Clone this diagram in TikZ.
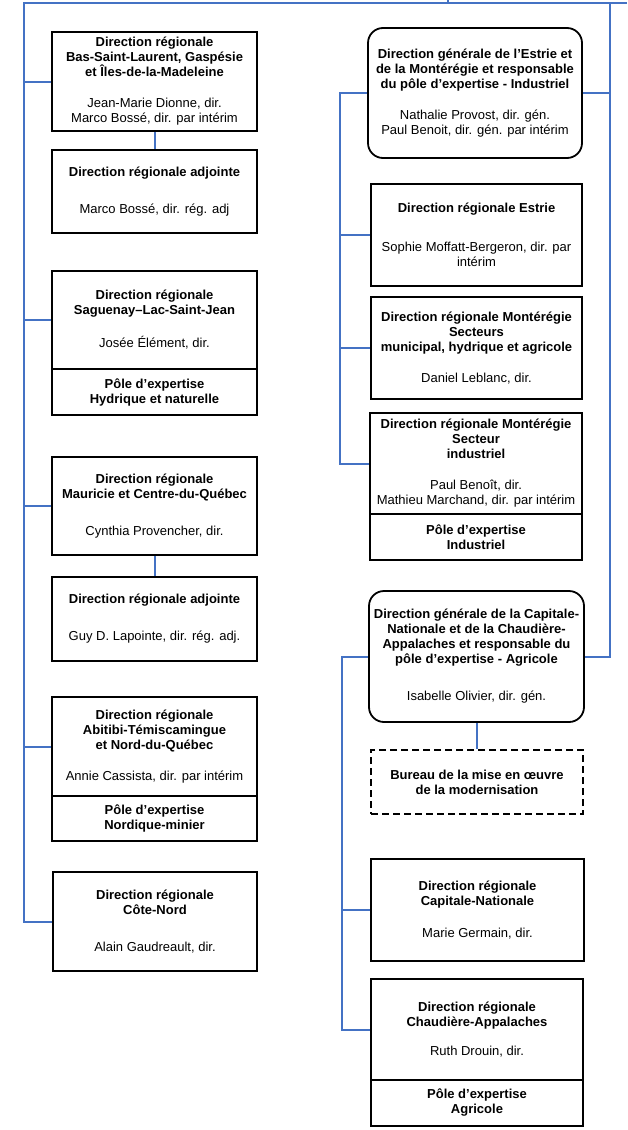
\documentclass[tikz,border=0pt]{standalone}
\usepackage{fontspec}
\setmainfont{Liberation Sans}
\definecolor{busblue}{HTML}{4472C4}
\newcommand{\B}[1]{\textbf{#1}}
\begin{document}
\begin{tikzpicture}[x=1pt,y=-1pt,
  box/.style={draw=black, line width=1.8pt, align=center, inner sep=2pt, font=\fontsize{13}{15}\selectfont},
  rbox/.style={box, rounded corners=15pt},
  dbox/.style={box, dash pattern=on 7pt off 4pt},
  link/.style={draw=busblue, line width=2pt}]
\useasboundingbox (0,0) rectangle (627,1130);

% ---------- left column ----------
\node[box, minimum width=205pt, minimum height=99pt] (L1) at (154.5,81.5)
  {\B{Direction régionale}\\\B{Bas-Saint-Laurent, Gaspésie}\\\B{et Îles-de-la-Madeleine}\\[16pt]Jean-Marie Dionne, dir.\\Marco Bossé, dir. par intérim};
\node[box, minimum width=205pt, minimum height=83pt] (L2) at (154.5,191.5)
  {\B{Direction régionale adjointe}\\[22pt]Marco Bossé, dir. rég. adj};
\node[box, minimum width=205pt, minimum height=98pt] (L3) at (154.5,320)
  {\B{Direction régionale}\\\B{Saguenay–Lac-Saint-Jean}\\[18pt]Josée Élément, dir.};
\node[box, minimum width=205pt, minimum height=46pt] (L3p) at (154.5,392)
  {\B{Pôle d’expertise}\\\B{Hydrique et naturelle}};
\node[box, minimum width=205pt, minimum height=98pt] (L4) at (154.5,506)
  {\B{Direction régionale}\\\B{Mauricie et Centre-du-Québec}\\[22pt]Cynthia Provencher, dir.};
\node[box, minimum width=205pt, minimum height=84pt] (L5) at (154.5,619)
  {\B{Direction régionale adjointe}\\[22pt]Guy D. Lapointe, dir. rég. adj.};
\node[box, minimum width=205pt, minimum height=99pt] (L6) at (154.5,746.5)
  {\B{Direction régionale}\\\B{Abitibi-Témiscamingue}\\\B{et Nord-du-Québec}\\[16pt]Annie Cassista, dir. par intérim};
\node[box, minimum width=205pt, minimum height=45pt] (L6p) at (154.5,818.5)
  {\B{Pôle d’expertise}\\\B{Nordique-minier}};
\node[box, minimum width=204pt, minimum height=99pt] (L7) at (155,921.5)
  {\B{Direction régionale}\\\B{Côte-Nord}\\[22pt]Alain Gaudreault, dir.};

% ---------- right column ----------
\node[rbox, minimum width=214pt, minimum height=130pt] (R1) at (475,93)
  {\B{Direction générale de l’Estrie et}\\\B{de la Montérégie et responsable}\\\B{du pôle d’expertise - Industriel}\\[16pt]Nathalie Provost, dir. gén.\\Paul Benoit, dir. gén. par intérim};
\node[box, minimum width=211pt, minimum height=102pt] (R2) at (476.5,235)
  {\B{Direction régionale Estrie}\\[24pt]Sophie Moffatt-Bergeron, dir. par\\intérim};
\node[box, minimum width=211pt, minimum height=102pt] (R3) at (476.5,348)
  {\B{Direction régionale Montérégie}\\\B{Secteurs}\\\B{municipal, hydrique et agricole}\\[16pt]Daniel Leblanc, dir.};
\node[box, minimum width=212pt, minimum height=101pt] (R4) at (476,463.5)
  {\B{Direction régionale Montérégie}\\\B{Secteur}\\\B{industriel}\\[16pt]Paul Benoît, dir.\\Mathieu Marchand, dir. par intérim};
\node[box, minimum width=212pt, minimum height=46pt] (R4p) at (476,537)
  {\B{Pôle d’expertise}\\\B{Industriel}};
\node[rbox, minimum width=215pt, minimum height=131pt] (R5) at (476.5,656.5)
  {\B{Direction générale de la Capitale-}\\\B{Nationale et de la Chaudière-}\\\B{Appalaches et responsable du}\\\B{pôle d’expertise - Agricole}\\[22pt]Isabelle Olivier, dir. gén.};
\node[dbox, minimum width=212pt, minimum height=64pt] (R6) at (477,782)
  {\B{Bureau de la mise en œuvre}\\\B{de la modernisation}};
\node[box, minimum width=213pt, minimum height=102pt] (R7) at (477.5,910)
  {\B{Direction régionale}\\\B{Capitale-Nationale}\\[17pt]Marie Germain, dir.};
\node[box, minimum width=212pt, minimum height=101pt] (R8) at (477,1029.5)
  {\B{Direction régionale}\\\B{Chaudière-Appalaches}\\[14pt]Ruth Drouin, dir.};
\node[box, minimum width=212pt, minimum height=46pt] (R8p) at (477,1103)
  {\B{Pôle d’expertise}\\\B{Agricole}};

% ---------- connectors ----------
\coordinate (TL) at (24,3);
\coordinate (TR) at (627,3);
\coordinate (TT) at (448,0);
\coordinate (TTb) at (448,3);
\coordinate (RB) at (610,3);
\coordinate (IB1) at (340,0);
\coordinate (IB2) at (342,0);

\draw[link] (TR) -- (TL) |- (L7.west);
\draw[link] (TT) -- (TTb);
\foreach \n in {L1,L3,L4,L6} \draw[link] (\n.west) -- (\n.west -| TL);
\draw[link] (L1.south) -- (L1.south |- L2.north);
\draw[link] (L4.south) -- (L4.south |- L5.north);

\draw[link] (RB) |- (R5.east);
\draw[link] (R1.east) -- (R1.east -| RB);

\draw[link] (R1.west) -| (R4.west -| IB1) -- (R4.west);
\foreach \n in {R2,R3} \draw[link] (\n.west) -- (\n.west -| IB1);

\draw[link] (R5.west) -| (R8.west -| IB2) -- (R8.west);
\draw[link] (R7.west) -- (R7.west -| IB2);
\draw[link] (R5.south) -- (R5.south |- R6.north);
\end{tikzpicture}
\end{document}
